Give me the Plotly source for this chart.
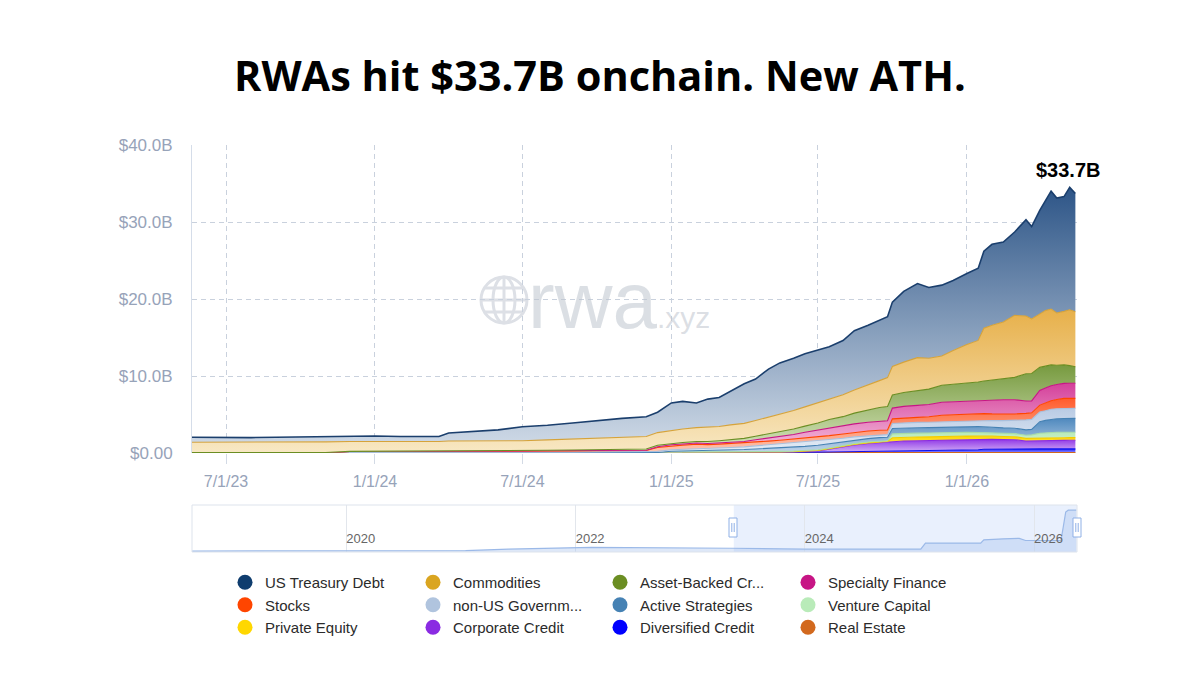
import numpy as np
import plotly.graph_objects as go

# ---------------- data (US$ billions) ----------------
dates = [
    "2023-05-20", "2023-07-01", "2023-08-01", "2023-09-01", "2023-10-01", "2023-11-01",
    "2023-12-01", "2024-01-01", "2024-02-01", "2024-03-01", "2024-03-20", "2024-04-01",
    "2024-05-01", "2024-06-01", "2024-07-01", "2024-08-01", "2024-09-01", "2024-10-01",
    "2024-11-01", "2024-12-01", "2024-12-15", "2025-01-01", "2025-01-15", "2025-02-01",
    "2025-02-15", "2025-03-01", "2025-03-15", "2025-04-01", "2025-04-15", "2025-05-01",
    "2025-05-15", "2025-06-01", "2025-06-15", "2025-07-01", "2025-07-15", "2025-08-01",
    "2025-08-15", "2025-09-01", "2025-09-15", "2025-09-25", "2025-10-01", "2025-10-15",
    "2025-11-01", "2025-11-15", "2025-12-01", "2025-12-15", "2026-01-01", "2026-01-15",
    "2026-01-22", "2026-02-01", "2026-02-15", "2026-03-01", "2026-03-15", "2026-03-22",
    "2026-04-01", "2026-04-08", "2026-04-15", "2026-04-22", "2026-05-01", "2026-05-08",
    "2026-05-15",
]

real_estate = [0.02] * 21 + [0.03] * 12 + [0.05] * 13 + [0.07] * 15
diversified_credit = [0.0] * 31 + [0.02, 0.04, 0.06, 0.08, 0.1, 0.12, 0.14, 0.15, 0.16, 0.2,
                                   0.22, 0.24, 0.26, 0.3, 0.32, 0.34, 0.36, 0.42, 0.44, 0.44,
                                   0.45, 0.46, 0.46, 0.47, 0.47, 0.47, 0.46, 0.46, 0.47, 0.47]
corporate_credit = [0.02] * 21 + [0.03, 0.03, 0.04, 0.04, 0.05, 0.05, 0.05, 0.06, 0.07, 0.08,
                                  0.1, 0.12, 0.16, 0.37, 0.65, 0.87, 1.04, 1.15, 1.18, 1.23,
                                  1.28, 1.31, 1.32, 1.35, 1.36, 1.34, 1.32, 1.28, 1.26, 1.23,
                                  1.2, 1.02, 1.02, 1.08, 1.1, 1.1, 1.11, 1.11, 1.11, 1.11]
private_equity = [0.0] * 21 + [0.02] * 12 + [0.05, 0.06, 0.07, 0.08, 0.09, 0.1, 0.1] + \
    [0.5, 0.5, 0.48, 0.47, 0.45, 0.45, 0.45, 0.44, 0.44, 0.42, 0.4, 0.4] + [0.35] * 9
venture_capital = [0.0] * 21 + [0.05] * 7 + [0.06, 0.07, 0.08, 0.09] + [0.1] * 8 + [0.5] * 7 + \
    [0.48, 0.45, 0.42, 0.4, 0.4, 0.4, 0.45, 0.6, 0.65, 0.7, 0.7, 0.7, 0.7, 0.7]
active_strategies = [0.0] * 11 + [0.02] * 10 + [
    0.1, 0.12, 0.15, 0.18, 0.2, 0.25, 0.3, 0.35, 0.4, 0.45, 0.5, 0.55, 0.58, 0.55, 0.5,
    0.48, 0.45, 0.45, 0.45, 0.7, 0.7, 0.7, 0.7, 0.7, 0.72, 0.75, 0.75, 0.75, 0.72, 0.72,
    0.7, 0.7, 0.72, 1.5, 1.6, 1.7, 1.75, 1.8, 1.8, 1.8]
non_us_government = [0.0] * 12 + [0.02, 0.03, 0.04, 0.05, 0.06, 0.08, 0.1] + [
    0.12, 0.15, 0.2, 0.22, 0.25, 0.27, 0.3, 0.32, 0.35, 0.4, 0.45, 0.5, 0.55, 0.58, 0.6,
    0.5, 0.45, 0.4, 0.38, 0.35, 0.35, 0.65, 0.68, 0.7, 0.7, 0.7, 0.72, 0.75, 0.8, 0.85,
    0.9, 0.95, 1.0, 1.3, 1.3, 1.25, 1.25, 1.3, 1.3, 1.3, 1.3, 1.3]
stocks = [0.0] * 6 + [0.15] * 14 + [0.5, 0.5, 0.55, 0.6] + [0.5] * 10 + \
    [0.55, 0.55, 0.58, 0.6, 0.6, 0.6, 0.6, 0.62, 0.65, 0.7] + [0.85] * 10 + \
    [0.9, 1.0, 1.1, 1.2, 1.3, 1.3, 1.3]
specialty_finance = [0.0] * 14 + [0.03] * 6 + [0.1] + [0.15] * 5 + [
    0.18, 0.2, 0.3, 0.4, 0.5, 0.6, 0.75, 0.9, 1.0, 1.05, 1.1, 1.15, 1.15, 1.2, 1.4, 1.5,
    1.55, 1.6, 1.7, 1.7, 1.7, 1.75, 1.75, 1.8, 1.85, 1.85, 1.6, 1.55, 1.9] + [1.95] * 6
asset_backed_credit = [0.02] * 7 + [0.03] * 7 + [
    0.05, 0.06, 0.08, 0.1, 0.12, 0.15, 0.2, 0.15, 0.2, 0.2, 0.25, 0.3, 0.35, 0.4, 0.45,
    0.55, 0.6, 0.7, 0.8, 0.9, 1.1, 1.2, 1.4, 1.6, 1.8, 1.85, 1.7, 1.8, 1.9, 2.0, 2.2, 2.25,
    2.3, 2.4, 2.5, 2.6, 2.7, 2.9, 3.55, 3.55, 3.0, 2.8, 2.7, 2.5, 2.4, 2.3, 2.15]
commodities = [1.34, 1.34, 1.34, 1.34, 1.39, 1.39, 1.29, 1.28, 1.23, 1.23, 1.28, 1.31, 1.29,
               1.28, 1.27, 1.35, 1.42, 1.53, 1.59, 1.64, 1.64, 1.72, 1.75, 1.8, 1.85, 1.85,
               1.9, 1.95, 2.05, 2.15, 2.25, 2.4, 2.5, 2.6, 2.65, 2.85, 3.0, 3.2, 3.5, 3.75,
               3.7, 3.95, 4.3, 4.0, 3.8, 4.4, 5.05, 5.4, 6.85, 7.1, 7.4, 8.05, 7.5, 7.1,
               6.9, 7.25, 7.25, 6.8, 6.95, 7.25, 7.15]
us_treasury_debt = [0.65, 0.6, 0.6, 0.65, 0.65, 0.65, 0.65, 0.7, 0.7, 0.65, 0.65, 1.05, 1.25,
                    1.45, 1.8, 1.9, 2.1, 2.25, 2.45, 2.55, 2.65, 3.55, 3.58, 3.21, 3.66, 3.75,
                    4.35, 5.15, 5.38, 6.26, 6.69, 6.79, 6.91, 6.9, 6.79, 7.03, 7.71, 7.8, 7.9,
                    7.91, 8.37, 9.2, 9.62, 9.2, 9.2, 9.08, 9.2, 9.38, 10.0, 10.52, 10.39,
                    10.83, 12.5, 11.98, 13.48, 14.31, 15.31, 14.91, 14.91, 15.9, 15.35]

x_tick_dates = ["2023-07-01", "2024-01-01", "2024-07-01", "2025-01-01", "2025-07-01", "2026-01-01"]
x_tick_text = ["7/1/23", "1/1/24", "7/1/24", "1/1/25", "7/1/25", "1/1/26"]
y_tick_vals = [0, 10, 20, 30, 40]
y_tick_text = ["$0.00", "$10.0B", "$20.0B", "$30.0B", "$40.0B"]

# overview (range-slider style) strip, relative level
overview_dates = ["2018-08-27", "2020-01-01", "2021-01-15", "2021-06-01", "2021-11-01",
                  "2022-02-20", "2023-05-15", "2024-01-01", "2025-01-05", "2025-01-20",
                  "2025-07-15", "2025-07-25", "2025-09-25", "2025-11-15", "2025-12-05",
                  "2026-03-28", "2026-04-12", "2026-04-20", "2026-05-16"]
overview_level = [0.02, 0.02, 0.03, 0.06, 0.09, 0.1, 0.08, 0.06, 0.06, 0.19, 0.19, 0.26,
                  0.28, 0.29, 0.245, 0.245, 0.85, 0.89, 0.89]
overview_ticks = ["2020-01-01", "2022-01-01", "2024-01-01", "2026-01-01"]
overview_tick_text = ["2020", "2022", "2024", "2026"]

# ---------------- styling ----------------
# bottom -> top: (name, values, line colour, light fill, dark fill)
stack = [
    ("Real Estate", real_estate, "#d2691e", "#eaa56c", "#d2691e"),
    ("Diversified Credit", diversified_credit, "#1010ee", "#9c9cff", "#1a1aff"),
    ("Corporate Credit", corporate_credit, "#8a2be2", "#d6b6f7", "#9138e6"),
    ("Private Equity", private_equity, "#f2cc00", "#fff09a", "#ffd700"),
    ("Venture Capital", venture_capital, "#a8dca8", "#e2f6e2", "#b8eab8"),
    ("Active Strategies", active_strategies, "#4682b4", "#c4d7ec", "#4f89be"),
    ("non-US Government Debt", non_us_government, "#a9bfdc", "#e6edf6", "#b9cbe4"),
    ("Stocks", stocks, "#ff4500", "#ffc7b2", "#ff5b2c"),
    ("Specialty Finance", specialty_finance, "#c71585", "#f6c3e0", "#d4409a"),
    ("Asset-Backed Credit", asset_backed_credit, "#6b8e23", "#d8e6bf", "#779a3f"),
    ("Commodities", commodities, "#d6a33a", "#f8e8c4", "#e7b04a"),
    ("US Treasury Debt", us_treasury_debt, "#1b3f6d", "#d3dde9", "#2d5587"),
]

legend_cols = [
    [("US Treasury Debt", "#0f3d6e"), ("Stocks", "#ff4500"), ("Private Equity", "#ffd700")],
    [("Commodities", "#daa520"), ("non-US Governm...", "#b0c4de"), ("Corporate Credit", "#8a2be2")],
    [("Asset-Backed Cr...", "#6b8e23"), ("Active Strategies", "#4682b4"), ("Diversified Credit", "#0000ff")],
    [("Specialty Finance", "#c71585"), ("Venture Capital", "#b9ebb9"), ("Real Estate", "#d2691e")],
]

FONT = "Liberation Sans, Arial, sans-serif"
W, H = 1200, 675


def px(x):
    return x / W


def py(y):
    return 1 - y / H


fig = go.Figure()

cum = np.zeros(len(dates))
for name, vals, line_c, c0, c1 in stack:
    assert len(vals) == len(dates), name
    cum = cum + np.array(vals, dtype=float)
    fig.add_trace(go.Scatter(
        x=dates, y=vals, name=name, stackgroup="rwa", mode="lines",
        line=dict(color=line_c, width=1.6 if name == "US Treasury Debt" else 1.1),
        fillcolor=c1,
        fillgradient=dict(type="vertical", colorscale=[[0, c0], [1, c1]],
                          start=0, stop=float(cum.max())),
        showlegend=False, hoverinfo="skip", xaxis="x", yaxis="y"))

legend_names = ["legend", "legend2", "legend3", "legend4"]
for lg, col in zip(legend_names, legend_cols):
    for label, color in col:
        fig.add_trace(go.Scatter(
            x=[None], y=[None], mode="markers", name=label, legend=lg,
            marker=dict(size=15, color=color, symbol="circle"),
            showlegend=True, hoverinfo="skip", xaxis="x", yaxis="y"))

fig.add_trace(go.Scatter(
    x=overview_dates, y=overview_level, mode="lines", fill="tozeroy",
    line=dict(color="#9bb9e8", width=1.2), fillcolor="rgba(160,190,235,0.35)",
    showlegend=False, hoverinfo="skip", xaxis="x2", yaxis="y2"))

x_dom = [px(192), px(1077)]
grid_c = "#c9d1dd"
tick_c = "#97a3b9"

fig.update_layout(
    width=W, height=H, margin=dict(l=0, r=0, t=0, b=0, autoexpand=False),
    paper_bgcolor="white", plot_bgcolor="white",
    font=dict(family=FONT),
    xaxis=dict(domain=x_dom, anchor="y", type="date", range=["2023-05-20", "2026-05-17"],
               tickvals=x_tick_dates, ticktext=x_tick_text, showgrid=True, gridcolor=grid_c,
               griddash="5px,4px", gridwidth=1, ticks="outside", ticklen=10, tickcolor="#d3dae5",
               tickfont=dict(size=16, color=tick_c, family=FONT), ticklabelstandoff=4,
               showline=False, zeroline=False, fixedrange=True, automargin=False),
    yaxis=dict(domain=[py(453), py(145)], anchor="x", range=[0, 40], tickvals=y_tick_vals,
               ticktext=y_tick_text, showgrid=True, gridcolor=grid_c, griddash="5px,4px",
               gridwidth=1, showline=True, linecolor="#d5dde9", linewidth=1, zeroline=False,
               ticks="", tickfont=dict(size=17, color=tick_c, family=FONT),
               ticklabelstandoff=15, fixedrange=True, automargin=False),
    xaxis2=dict(domain=x_dom, anchor="y2", type="date", range=["2018-08-27", "2026-05-18"],
                tickvals=overview_ticks, ticktext=overview_tick_text,
                ticklabelposition="inside right", ticks="", showgrid=True, gridcolor="#e2e6ec",
                tickfont=dict(size=13, color="#666666", family=FONT), showline=False,
                zeroline=False, fixedrange=True, automargin=False),
    yaxis2=dict(domain=[py(552), py(505)], anchor="x2", range=[0, 1], visible=False,
                fixedrange=True),
)

legend_x_text = [265, 453, 640, 828]
for lg, xt in zip(legend_names, legend_x_text):
    fig.update_layout({lg: dict(x=px(xt - 40), y=py(566), xanchor="left", yanchor="top",
                                orientation="v", bgcolor="rgba(0,0,0,0)", borderwidth=0,
                                traceorder="normal",
                                font=dict(size=15, color="#2b2b2b", family=FONT),
                                itemclick=False, itemdoubleclick=False)})

shapes = []
# overview frame and selected window
shapes.append(dict(type="rect", xref="paper", yref="paper", x0=px(192), x1=px(1077),
                   y0=py(552), y1=py(505), line=dict(color="#dde3ec", width=1),
                   fillcolor="rgba(0,0,0,0)", layer="above"))
shapes.append(dict(type="rect", xref="x2", yref="paper", x0="2023-05-20", x1="2026-05-17",
                   y0=py(552), y1=py(505), line=dict(width=0),
                   fillcolor="rgba(206,222,250,0.45)", layer="below"))
for hx in [733, 1077]:
    shapes.append(dict(type="rect", xref="paper", yref="paper", x0=px(hx - 4), x1=px(hx + 4),
                       y0=py(537), y1=py(518), line=dict(color="#8fb0e6", width=1),
                       fillcolor="white", layer="above"))
    for dx in (-1.2, 1.2):
        shapes.append(dict(type="line", xref="paper", yref="paper", x0=px(hx + dx),
                           x1=px(hx + dx), y0=py(532), y1=py(523),
                           line=dict(color="#8fb0e6", width=1), layer="above"))

# watermark globe
gc = "#dde0e6"
cx, cy, r = 504, 300, 23
shapes.append(dict(type="circle", xref="paper", yref="paper", x0=px(cx - r), x1=px(cx + r),
                   y0=py(cy + r), y1=py(cy - r), line=dict(color=gc, width=3), layer="below"))
shapes.append(dict(type="circle", xref="paper", yref="paper", x0=px(cx - 11), x1=px(cx + 11),
                   y0=py(cy + r), y1=py(cy - r), line=dict(color=gc, width=3), layer="below"))
shapes.append(dict(type="line", xref="paper", yref="paper", x0=px(cx), x1=px(cx),
                   y0=py(cy + r), y1=py(cy - r), line=dict(color=gc, width=3), layer="below"))
for dy, hw in [(0, r), (-12, 19.6), (12, 19.6)]:
    shapes.append(dict(type="line", xref="paper", yref="paper", x0=px(cx - hw), x1=px(cx + hw),
                       y0=py(cy + dy), y1=py(cy + dy), line=dict(color=gc, width=3),
                       layer="below"))
fig.update_layout(shapes=shapes)

annotations = [
    dict(text="<b>RWAs hit $33.7B onchain. New ATH.</b>", xref="paper", yref="paper",
         x=0.5, y=py(75), xanchor="center", yanchor="middle", showarrow=False,
         font=dict(size=41.5, color="#000000", family="Open Sans, sans-serif")),
    dict(text="<b>$33.7B</b>", xref="paper", yref="paper", x=px(1068), y=py(170),
         xanchor="center", yanchor="middle", showarrow=False,
         font=dict(size=20, color="#000000", family=FONT)),
    dict(text="rwa<span style='font-size:30px'>.xyz</span>", xref="paper", yref="paper",
         x=px(526), y=py(300), xanchor="left", yanchor="middle", showarrow=False,
         font=dict(size=80, color="rgba(190,196,206,0.55)", family=FONT)),
]
fig.update_layout(annotations=annotations)

fig.write_html("out.html")
